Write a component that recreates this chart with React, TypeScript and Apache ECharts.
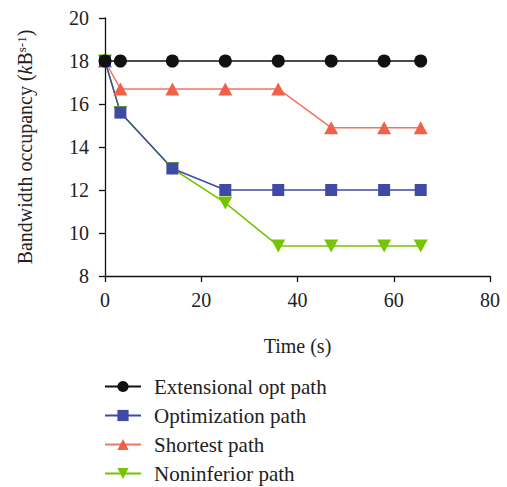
import React, { useEffect, useRef } from "react";
import * as echarts from "echarts";

const timePoints = [0, 3.2, 14, 25, 36, 47, 58, 65.6];
const extensionalOpt = [18, 18, 18, 18, 18, 18, 18, 18];
const optimization = [18, 15.6, 13, 12, 12, 12, 12, 12];
const shortest = [18, 16.7, 16.7, 16.7, 16.7, 14.9, 14.9, 14.9];
const noninferior = [18, 15.6, 13, 11.4, 9.4, 9.4, 9.4, 9.4];
const seriesNames = ["Extensional opt path", "Optimization path", "Shortest path", "Noninferior path"];
const xTicks = [0, 20, 40, 60, 80];
const yTicks = [8, 10, 12, 14, 16, 18, 20];

const FONT = "Liberation Serif";

function pairs(vals: number[]) {
  return timePoints.map((t, i) => [t, vals[i]]);
}

export default function App() {
  const ref = useRef<HTMLDivElement>(null);
  useEffect(() => {
    if (!ref.current) return;
    const chart = echarts.init(ref.current, null, { renderer: "svg" });
    const invTri = "path://M0,0 L10,0 L5,9 Z";
    const txt = { fontFamily: FONT, fontSize: 20, color: "#222" };
    chart.setOption({
      animation: false,
      backgroundColor: "#ffffff",
      grid: { left: 105, right: 17, top: 18, bottom: 211 },
      xAxis: {
        type: "value",
        min: xTicks[0],
        max: xTicks[xTicks.length - 1],
        interval: 20,
        name: "Time (s)",
        nameLocation: "middle",
        nameGap: 60,
        nameTextStyle: txt,
        axisLine: { show: true, onZero: false, lineStyle: { color: "#111", width: 1.3 } },
        axisTick: { show: true, inside: false, length: 6, lineStyle: { color: "#111", width: 1.3 } },
        axisLabel: { fontFamily: FONT, fontSize: 20, color: "#222", margin: 14 },
        splitLine: { show: false },
      },
      yAxis: {
        type: "value",
        min: yTicks[0],
        max: yTicks[yTicks.length - 1],
        interval: 2,
        name: "{a|Bandwidth occupancy (}{k|k}{a|B}{sup|s-1}{a|)}",
        nameLocation: "middle",
        nameRotate: 90,
        nameGap: 70,
        nameTextStyle: {
          ...txt,
          rich: {
            a: { ...txt },
            k: { ...txt, fontStyle: "italic" },
            sup: { fontFamily: FONT, fontSize: 13, color: "#222", verticalAlign: "top", padding: [0, 0, 6, 0] },
          },
        },
        axisLine: { show: true, onZero: false, lineStyle: { color: "#111", width: 1.3 } },
        axisTick: { show: true, inside: false, length: 6, lineStyle: { color: "#111", width: 1.3 } },
        axisLabel: { fontFamily: FONT, fontSize: 20, color: "#222", margin: 16 },
        splitLine: { show: false },
      },
      legend: {
        orient: "vertical",
        left: 104,
        top: 376,
        padding: 0,
        height: 111,
        itemWidth: 36,
        itemHeight: 14,
        itemGap: 8,
        data: seriesNames,
        textStyle: { fontFamily: FONT, fontSize: 21, color: "#222", padding: [0, 0, 0, 8] },
      },
      series: [
        {
          name: seriesNames[3],
          type: "line",
          data: pairs(noninferior),
          symbol: invTri,
          symbolSize: [14, 13],
          color: "#76c400",
          lineStyle: { width: 1.5, color: "#76c400" },
          itemStyle: { color: "#76c400" },
        },
        {
          name: seriesNames[2],
          type: "line",
          data: pairs(shortest),
          symbol: "triangle",
          symbolSize: [14, 13],
          color: "#f0614b",
          lineStyle: { width: 1.5, color: "#f27560" },
          itemStyle: { color: "#f0614b" },
        },
        {
          name: seriesNames[1],
          type: "line",
          data: pairs(optimization),
          symbol: "rect",
          symbolSize: 12,
          color: "#3f49a6",
          lineStyle: { width: 1.5, color: "#3f49a6" },
          itemStyle: { color: "#3f49a6" },
        },
        {
          name: seriesNames[0],
          type: "line",
          data: pairs(extensionalOpt),
          symbol: "circle",
          symbolSize: 13,
          color: "#111",
          lineStyle: { width: 1.5, color: "#111" },
          itemStyle: { color: "#111" },
        },
      ],
    });
    return () => chart.dispose();
  }, []);
  return <div ref={ref} style={{ width: 507, height: 487, position: "absolute", left: 0, top: 0 }} />;
}
